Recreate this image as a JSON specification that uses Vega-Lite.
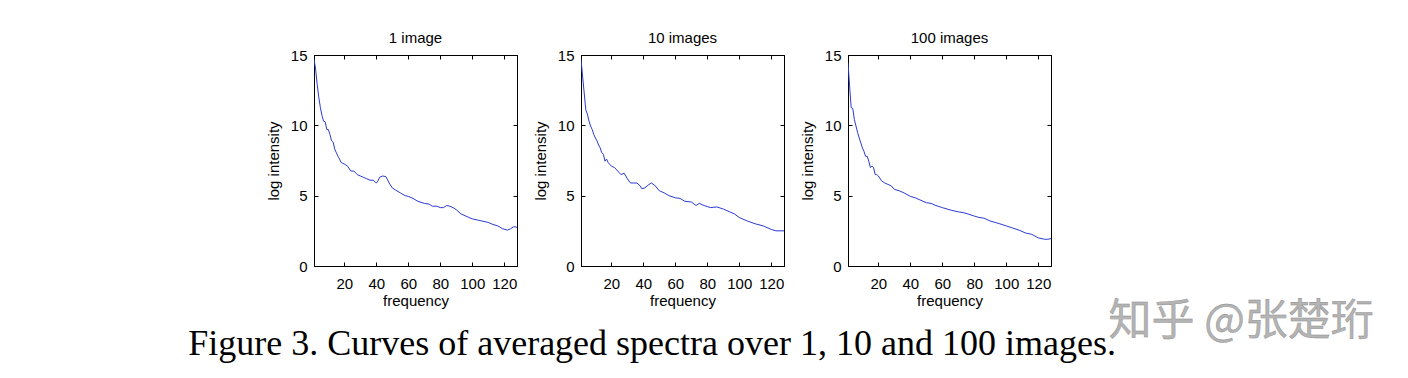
{
  "$schema": "https://vega.github.io/schema/vega-lite/v6.json",
  "background": "white",
  "padding": {"left": 188, "top": 30, "right": 0, "bottom": 0},
  "spacing": 11,
  "config": {
    "view": {"stroke": "#000", "strokeWidth": 1},
    "font": "Liberation Sans",
    "title": {"font": "Liberation Sans", "fontSize": 15, "fontWeight": "normal", "color": "#000", "offset": 2},
    "axis": {
      "labelFont": "Liberation Sans", "labelFontSize": 15, "labelColor": "#000",
      "titleFont": "Liberation Sans", "titleFontSize": 15, "titleFontWeight": "normal", "titleColor": "#000",
      "domainColor": "#000", "tickColor": "#000", "tickSize": -4, "grid": false
    }
  },
  "datasets": {
    "p1": [
      {"f":1,"v":14.7},{"f":2,"v":14.0},{"f":3,"v":12.9},{"f":4,"v":12.0},{"f":5,"v":11.25},{"f":6,"v":10.7},{"f":7,"v":10.3},{"f":8,"v":10.25},{"f":9,"v":9.7},{"f":10,"v":9.7},
      {"f":11,"v":9.35},{"f":12,"v":8.9},{"f":13,"v":8.8},{"f":14,"v":8.3},{"f":15,"v":8.05},{"f":16,"v":7.8},{"f":17,"v":7.6},{"f":18,"v":7.35},{"f":19,"v":7.3},{"f":20,"v":7.25},
      {"f":22,"v":7.1},{"f":24,"v":6.75},{"f":26,"v":6.75},{"f":28,"v":6.5},{"f":30,"v":6.4},{"f":32,"v":6.3},{"f":34,"v":6.2},{"f":36,"v":6.1},{"f":38,"v":6.1},{"f":40,"v":5.9},
      {"f":41,"v":6.05},{"f":42,"v":6.3},{"f":44,"v":6.4},{"f":46,"v":6.35},{"f":48,"v":5.9},{"f":50,"v":5.55},{"f":52,"v":5.4},{"f":55,"v":5.2},{"f":58,"v":5.0},{"f":60,"v":4.95},
      {"f":63,"v":4.8},{"f":66,"v":4.6},{"f":70,"v":4.45},{"f":73,"v":4.4},{"f":75,"v":4.25},{"f":78,"v":4.25},{"f":80,"v":4.15},{"f":82,"v":4.15},{"f":84,"v":4.3},{"f":86,"v":4.25},
      {"f":88,"v":4.15},{"f":90,"v":4.0},{"f":93,"v":3.7},{"f":96,"v":3.55},{"f":100,"v":3.35},{"f":104,"v":3.25},{"f":108,"v":3.15},{"f":110,"v":3.1},{"f":113,"v":2.95},{"f":116,"v":2.85},
      {"f":119,"v":2.65},{"f":122,"v":2.55},{"f":124,"v":2.65},{"f":126,"v":2.8},{"f":128,"v":2.75}
    ],
    "p2": [
      {"f":1,"v":14.7},{"f":2,"v":13.5},{"f":3,"v":12.3},{"f":4,"v":11.1},{"f":5,"v":10.8},{"f":6,"v":10.3},{"f":7,"v":9.95},{"f":8,"v":9.7},{"f":9,"v":9.35},{"f":10,"v":9.1},
      {"f":11,"v":8.9},{"f":12,"v":8.6},{"f":13,"v":8.4},{"f":14,"v":8.05},{"f":15,"v":7.95},{"f":16,"v":7.45},{"f":17,"v":7.6},{"f":18,"v":7.35},{"f":20,"v":7.1},{"f":22,"v":7.0},
      {"f":24,"v":6.75},{"f":26,"v":6.5},{"f":28,"v":6.6},{"f":30,"v":6.2},{"f":32,"v":5.9},{"f":34,"v":5.9},{"f":36,"v":5.9},{"f":38,"v":5.7},{"f":39,"v":5.5},{"f":41,"v":5.55},
      {"f":43,"v":5.75},{"f":45,"v":5.9},{"f":47,"v":5.75},{"f":50,"v":5.35},{"f":53,"v":5.2},{"f":56,"v":5.0},{"f":60,"v":4.85},{"f":63,"v":4.8},{"f":66,"v":4.6},{"f":70,"v":4.55},
      {"f":73,"v":4.3},{"f":75,"v":4.45},{"f":78,"v":4.3},{"f":82,"v":4.15},{"f":86,"v":4.2},{"f":90,"v":4.05},{"f":94,"v":3.85},{"f":97,"v":3.7},{"f":100,"v":3.45},{"f":105,"v":3.2},
      {"f":110,"v":3.0},{"f":115,"v":2.85},{"f":120,"v":2.6},{"f":123,"v":2.5},{"f":128,"v":2.5}
    ],
    "p3": [
      {"f":1,"v":14.45},{"f":2,"v":12.8},{"f":3,"v":11.25},{"f":4,"v":11.2},{"f":5,"v":10.4},{"f":6,"v":9.95},{"f":7,"v":9.5},{"f":8,"v":9.1},{"f":9,"v":8.75},{"f":10,"v":8.4},
      {"f":11,"v":8.15},{"f":12,"v":7.8},{"f":13,"v":7.8},{"f":14,"v":7.45},{"f":15,"v":7.0},{"f":16,"v":7.1},{"f":17,"v":7.0},{"f":18,"v":6.5},{"f":19,"v":6.5},{"f":20,"v":6.4},
      {"f":22,"v":6.05},{"f":24,"v":5.9},{"f":26,"v":5.8},{"f":28,"v":5.7},{"f":30,"v":5.45},{"f":33,"v":5.35},{"f":36,"v":5.2},{"f":40,"v":4.95},{"f":43,"v":4.85},{"f":46,"v":4.7},
      {"f":50,"v":4.5},{"f":53,"v":4.45},{"f":56,"v":4.3},{"f":60,"v":4.15},{"f":63,"v":4.05},{"f":66,"v":3.95},{"f":70,"v":3.85},{"f":73,"v":3.8},{"f":76,"v":3.7},{"f":80,"v":3.55},
      {"f":83,"v":3.45},{"f":86,"v":3.4},{"f":90,"v":3.2},{"f":93,"v":3.1},{"f":96,"v":3.0},{"f":100,"v":2.85},{"f":104,"v":2.7},{"f":108,"v":2.55},{"f":112,"v":2.35},{"f":116,"v":2.25},
      {"f":120,"v":2.0},{"f":124,"v":1.9},{"f":126,"v":1.9},{"f":128,"v":1.95}
    ],
    "wm": [{"label": "知乎 @张楚珩"}]
  },
  "title": {
    "text": "Figure 3. Curves of averaged spectra over 1, 10 and 100 images.",
    "orient": "bottom", "anchor": "middle",
    "font": "Liberation Serif", "fontSize": 36, "fontWeight": "normal", "color": "#000",
    "offset": -17, "dx": -168
  },
  "hconcat": [
    {
      "title": "1 image",
      "width": 203, "height": 211,
      "data": {"name": "p1"},
      "layer": [
        {"mark": {"type": "line", "color": "#2a3bd1", "strokeWidth": 1, "clip": true},
         "encoding": {
           "x": {"field": "f", "type": "quantitative", "scale": {"domain": [1, 128], "nice": false, "zero": false}, "axis": {"values": [20, 40, 60, 80, 100, 120], "title": "frequency", "labelPadding": 14, "titlePadding": 2}},
           "y": {"field": "v", "type": "quantitative", "scale": {"domain": [0, 15], "nice": false}, "axis": {"values": [0, 5, 10, 15], "title": "log intensity", "labelPadding": 11, "titlePadding": 9}}
         }},
        {"mark": {"type": "point", "opacity": 0},
         "encoding": {
           "x": {"field": "f", "type": "quantitative", "axis": {"orient": "top", "values": [20, 40, 60, 80, 100, 120], "labels": false, "title": null}},
           "y": {"field": "v", "type": "quantitative", "axis": {"orient": "right", "values": [0, 5, 10, 15], "labels": false, "title": null}}
         }}
      ],
      "resolve": {"axis": {"x": "independent", "y": "independent"}}
    },
    {
      "title": "10 images",
      "width": 203, "height": 211,
      "data": {"name": "p2"},
      "layer": [
        {"mark": {"type": "line", "color": "#2a3bd1", "strokeWidth": 1, "clip": true},
         "encoding": {
           "x": {"field": "f", "type": "quantitative", "scale": {"domain": [1, 128], "nice": false, "zero": false}, "axis": {"values": [20, 40, 60, 80, 100, 120], "title": "frequency", "labelPadding": 14, "titlePadding": 2}},
           "y": {"field": "v", "type": "quantitative", "scale": {"domain": [0, 15], "nice": false}, "axis": {"values": [0, 5, 10, 15], "title": "log intensity", "labelPadding": 11, "titlePadding": 9}}
         }},
        {"mark": {"type": "point", "opacity": 0},
         "encoding": {
           "x": {"field": "f", "type": "quantitative", "axis": {"orient": "top", "values": [20, 40, 60, 80, 100, 120], "labels": false, "title": null}},
           "y": {"field": "v", "type": "quantitative", "axis": {"orient": "right", "values": [0, 5, 10, 15], "labels": false, "title": null}}
         }}
      ],
      "resolve": {"axis": {"x": "independent", "y": "independent"}}
    },
    {
      "title": "100 images",
      "width": 203, "height": 211,
      "layer": [
        {"data": {"name": "p3"},
         "mark": {"type": "line", "color": "#2a3bd1", "strokeWidth": 1, "clip": true},
         "encoding": {
           "x": {"field": "f", "type": "quantitative", "scale": {"domain": [1, 128], "nice": false, "zero": false}, "axis": {"values": [20, 40, 60, 80, 100, 120], "title": "frequency", "labelPadding": 14, "titlePadding": 2}},
           "y": {"field": "v", "type": "quantitative", "scale": {"domain": [0, 15], "nice": false}, "axis": {"values": [0, 5, 10, 15], "title": "log intensity", "labelPadding": 11, "titlePadding": 9}}
         }},
        {"data": {"name": "p3"},
         "mark": {"type": "point", "opacity": 0},
         "encoding": {
           "x": {"field": "f", "type": "quantitative", "axis": {"orient": "top", "values": [20, 40, 60, 80, 100, 120], "labels": false, "title": null}},
           "y": {"field": "v", "type": "quantitative", "axis": {"orient": "right", "values": [0, 5, 10, 15], "labels": false, "title": null}}
         }},
        {"data": {"name": "wm"},
         "mark": {"type": "text", "font": "Noto Sans CJK SC", "fontSize": 43, "color": "#b4b4b4", "stroke": "#8a8a8a", "strokeWidth": 0.4, "align": "center", "baseline": "middle", "clip": false},
         "encoding": {
           "text": {"field": "label"},
           "x": {"datum": 247, "axis": null},
           "y": {"datum": -3.95, "axis": null}
         }}
      ],
      "resolve": {"axis": {"x": "independent", "y": "independent"}}
    }
  ]
}
